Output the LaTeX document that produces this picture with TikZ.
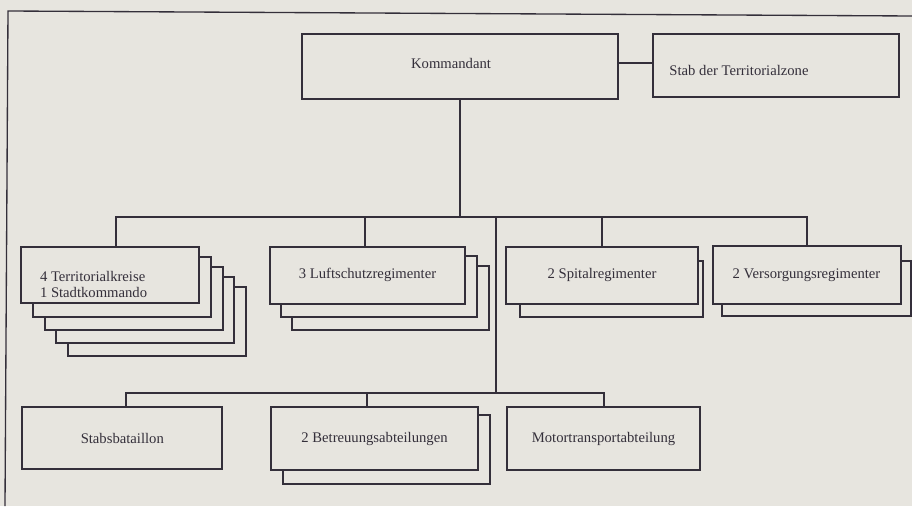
\documentclass[tikz,border=0pt]{standalone}
\usepackage{fontspec}
\setmainfont{Liberation Serif}
\definecolor{paper}{RGB}{231,229,223}
\definecolor{ink}{RGB}{52,47,58}
\tikzset{every picture/.style={line width=1.5pt}}
\tikzset{
  box/.style={draw=ink, fill=paper, inner sep=0pt, text=ink, font=\fontsize{11}{12}\selectfont},
  back/.style={draw=ink, fill=paper},
  link/.style={draw=ink},
  label/.style={inner sep=0pt, text=ink, font=\fontsize{11}{12}\selectfont}
}

\begin{document}
\begin{tikzpicture}[x=0.75pt,y=0.75pt,yscale=-1,xscale=1]
\fill [paper] (0,0) rectangle (912,506);
\useasboundingbox (0,0) rectangle (912,506);

% Page rule
\draw [ink, line width=1pt] (912,16) -- (8,11) -- (5,506);

% Text Node
\node [box, minimum width=237pt, minimum height=49.1pt] (kom) at (460,66.75) {};
\node [label] (komtxt) at (451,63.5) {Kommandant};
% Text Node
\node [box, minimum width=184.8pt, minimum height=47.25pt] (stab) at (775.8,66) {};
\node [label] (stabtxt) at (739,70.5) {Stab der Territorialzone};

% Stacked boxes
\foreach \i in {4,3,2,1}
  \draw [back] (21+11.8*\i, 246.7+10*\i) rectangle (199+11.8*\i, 303.3+13.2*\i);
\foreach \i in {2,1}
  \draw [back] (270+10.9*\i, 246.7+9.7*\i) rectangle (465+12.2*\i, 304+13*\i);
\draw [back] (520,260.7) rectangle (703.3,317.3);
\draw [back] (721.7,260.7) rectangle (910.7,315.5);
\draw [back] (283,415) rectangle (489.7,484);

% Text Node
\node [box, minimum width=133.5pt, minimum height=42.5pt] (terr) at (110,275) {};
\node [label, anchor=west, align=left] (terrtxt) at (39,284) {4 Territorialkreise\\1 Stadtkommando};
% Text Node
\node [box, minimum width=146.25pt, minimum height=43pt] (luft) at (367.5,275.35) {3 Luftschutzregimenter};
% Text Node
\node [box, minimum width=144pt, minimum height=43pt] (spit) at (602,275.35) {2 Spitalregimenter};
% Text Node
\node [box, minimum width=141pt, minimum height=43.5pt] (vers) at (806.5,275) {2 Versorgungsregimenter};
% Text Node
\node [box, minimum width=150pt, minimum height=47pt] (stabs) at (122.3,438) {Stabsbataillon};
% Text Node
\node [box, minimum width=155.25pt, minimum height=47.25pt] (betr) at (374.5,438.5) {2 Betreuungsabteilungen};
% Text Node
\node [box, minimum width=144.75pt, minimum height=47.25pt] (motor) at (603.5,438.5) {Motortransportabteilung};

% Connection
\draw [link] ([yshift=-2.5pt]kom.east) -- ([yshift=-2.5pt]kom.east -| stab.west);
% Connection
\coordinate (bus) at (460,216.7);
\draw [link] (kom.south) -- (kom.south |- bus);
\draw [link] ([xshift=4.5pt]terr.north) -- ([xshift=4.5pt]terr.north |- bus) -- (vers.north |- bus) -- (vers.north);
\draw [link] ([xshift=-2pt]luft.north) -- ([xshift=-2pt]luft.north |- bus);
\draw [link] (spit.north) -- (spit.north |- bus);
% Connection
\coordinate (fork) at (496,216.7);
\coordinate (low) at (496,393.3);
\draw [link] (fork) -- (low);
\draw [link] ([xshift=2.8pt]stabs.north) -- ([xshift=2.8pt]stabs.north |- low) -- (motor.north |- low) -- (motor.north);
\draw [link] ([xshift=-6pt]betr.north) -- ([xshift=-6pt]betr.north |- low);

\end{tikzpicture}
\end{document}
